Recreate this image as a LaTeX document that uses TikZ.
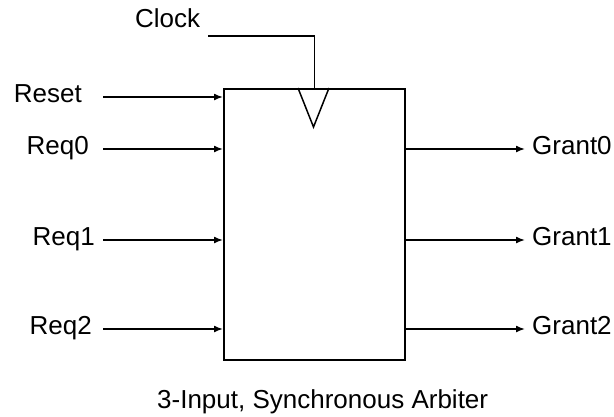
\documentclass[tikz,border=0pt]{standalone}
\usepackage{fontspec}
\setmainfont{Liberation Sans}
\usetikzlibrary{arrows.meta}

\tikzset{
    wire/.style={line width=1.5pt},
    sig/.style={wire, -{Latex[length=9pt,width=7pt]}},
    pinlabel/.style={inner sep=0pt}
}

\begin{document}
\begin{tikzpicture}[x=1pt,y=-1pt,font=\fontsize{26}{31}\selectfont]
    \useasboundingbox (0,0) rectangle (614,416);
    % arbiter block
    \node[draw, wire, anchor=north west, inner sep=0pt,
          minimum width=181pt, minimum height=271pt] (arb) at (223,88) {};
    \draw[wire] (298,88) -- (313.5,127) -- (329,88);
    % clock
    \node[pinlabel, anchor=base west] (clk) at (135,27) {Clock};
    \coordinate (clkin) at (208,36);
    \draw[wire] (clkin) -| (arb.north);
    % inputs
    \foreach \name/\y/\xe in {Reset/97/82, Req0/149/89, Req1/240/95, Req2/329/92} {
        \node[pinlabel, anchor=base east] (lbl-\name) at (\xe,\y+5) {\name};
        \coordinate (in-\name) at (103,\y);
        \draw[sig] (in-\name) -- (arb.west |- in-\name);
    }
    % outputs
    \foreach \name/\y in {Grant0/149, Grant1/240, Grant2/329} {
        \node[pinlabel, anchor=base west] (lbl-\name) at (532,\y+5) {\name};
        \coordinate (out-\name) at (525,\y);
        \draw[sig] (arb.east |- out-\name) -- (out-\name);
    }
    \node[pinlabel, anchor=base west] (title) at (157,408) {3-Input, Synchronous Arbiter};
\end{tikzpicture}
\end{document}
